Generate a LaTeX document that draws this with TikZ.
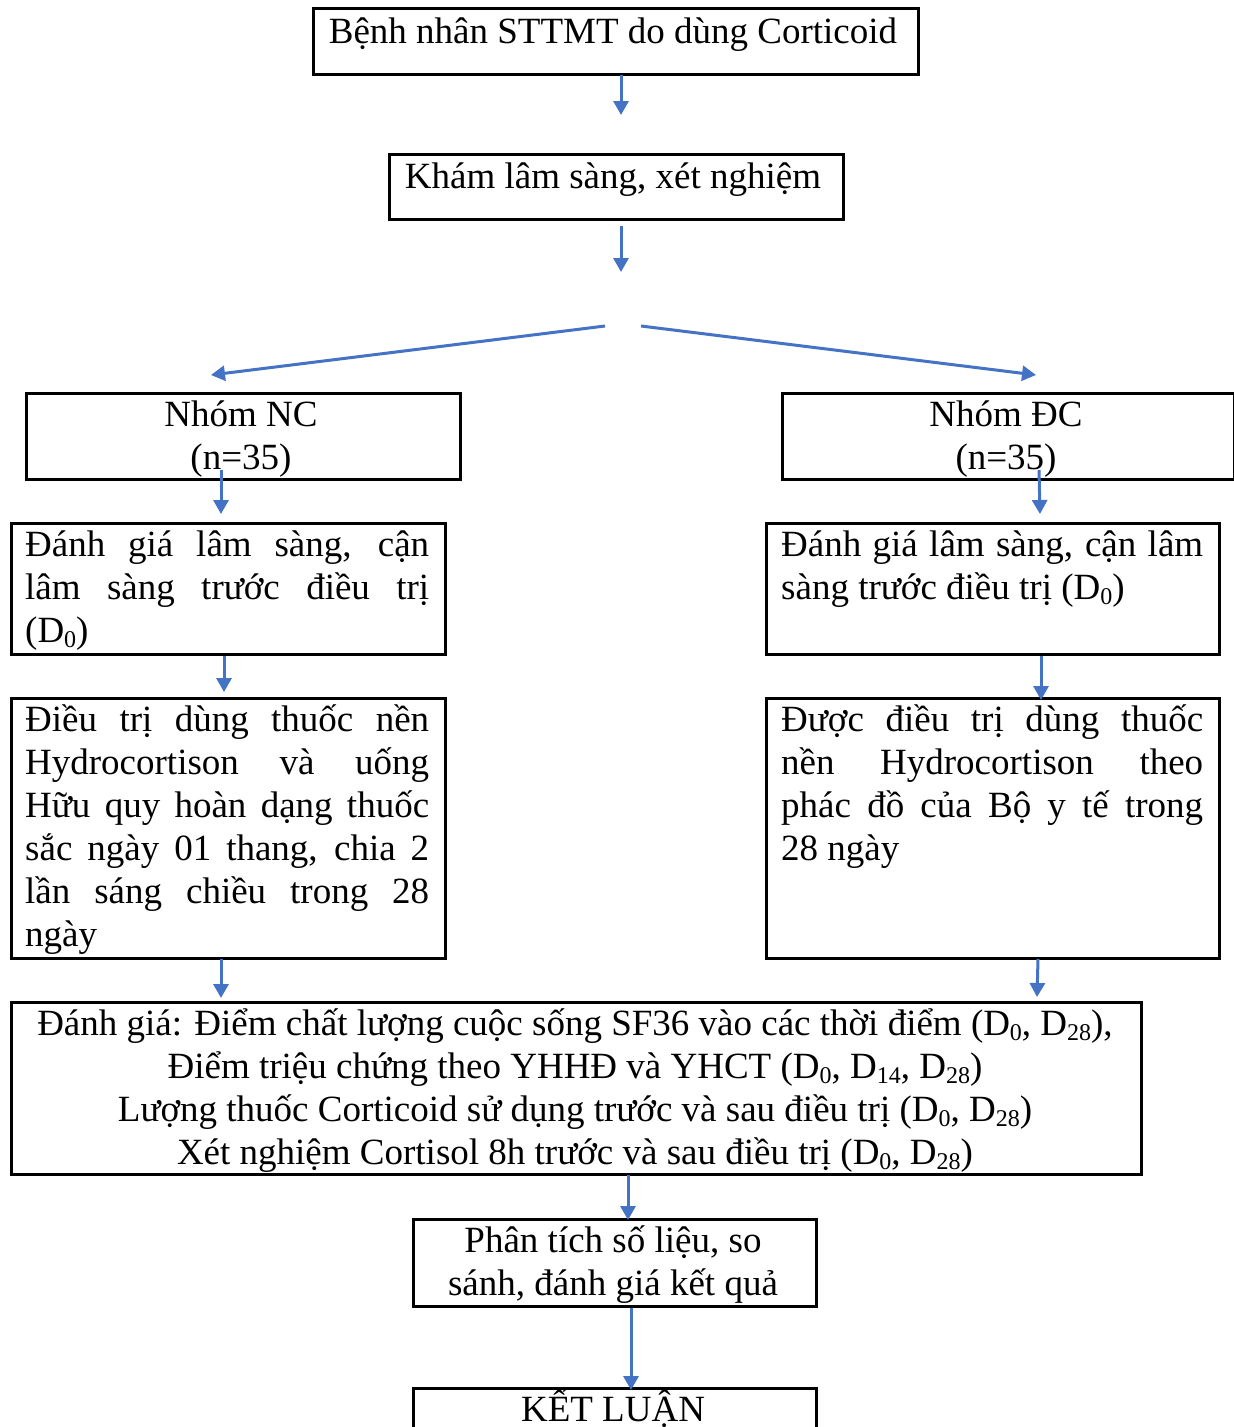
\documentclass[tikz,border=0pt]{standalone}
\usepackage{fontspec}
\setmainfont{Liberation Serif}
\usetikzlibrary{arrows.meta}
\definecolor{arrowblue}{HTML}{4472C4}
\newcommand\dsub[1]{\raisebox{-0.15em}{\fontsize{24}{24}\selectfont #1}}
\newcommand\jline[2]{\makebox[#1][s]{#2}}
\begin{document}
\begin{tikzpicture}[x=1pt,y=-1pt,
  box/.style={draw=black,line width=2.5pt,anchor=north west,inner sep=0pt},
  txt/.style={font=\fontsize{37}{43}\selectfont,inner sep=0pt,anchor=base},
  ltxt/.style={font=\fontsize{37}{43}\selectfont,inner sep=0pt,anchor=base west},
  arr/.style={draw=arrowblue,line width=3pt,-{Triangle[width=15pt,length=14pt]}}]
\useasboundingbox (0,0) rectangle (1234,1427);
% boxes
\node[box,minimum width=605pt,minimum height=66pt] (b1) at (312,7) {};
\node[box,minimum width=454pt,minimum height=65pt] (b2) at (388,153) {};
\node[box,minimum width=434pt,minimum height=86pt] (nc) at (25,392) {};
\node[box,minimum width=452pt,minimum height=86pt] (dc) at (781,392) {};
\node[box,minimum width=434pt,minimum height=131pt] (l1) at (10,522) {};
\node[box,minimum width=453pt,minimum height=131pt] (r1) at (765,522) {};
\node[box,minimum width=434pt,minimum height=260pt] (l2) at (10,697) {};
\node[box,minimum width=453pt,minimum height=260pt] (r2) at (765,697) {};
\node[box,minimum width=1130pt,minimum height=172pt] (big) at (10,1001) {};
\node[box,minimum width=403pt,minimum height=87pt] (pt) at (412,1218) {};
\node[box,minimum width=403pt,minimum height=70pt] (kl) at (412,1387) {};
% texts
\node[txt] (t1) at (613,43) {Bệnh nhân STTMT do dùng Corticoid};
\node[txt] (t2) at (613,188) {Khám lâm sàng, xét nghiệm};
\node[txt] (tnc1) at (241,426) {Nhóm NC};
\node[txt] (tnc2) at (241,469) {(n=35)};
\node[txt] (tdc1) at (1006,426) {Nhóm ĐC};
\node[txt] (tdc2) at (1006,469) {(n=35)};
\node[ltxt] (tl1a) at (25,556) {\jline{404pt}{Đánh giá lâm sàng, cận}};
\node[ltxt] (tl1b) at (25,599) {\jline{404pt}{lâm sàng trước điều trị}};
\node[ltxt] (tl1c) at (25,642) {(D\dsub{0})};
\node[ltxt] (tr1a) at (781,556) {\jline{422pt}{Đánh giá lâm sàng, cận lâm}};
\node[ltxt] (tr1b) at (781,599) {sàng trước điều trị (D\dsub{0})};
\node[ltxt] (tl2a) at (25,731) {\jline{404pt}{Điều trị dùng thuốc nền}};
\node[ltxt] (tl2b) at (25,774) {\jline{404pt}{Hydrocortison và uống}};
\node[ltxt] (tl2c) at (25,817) {\jline{404pt}{Hữu quy hoàn dạng thuốc}};
\node[ltxt] (tl2d) at (25,860) {\jline{404pt}{sắc ngày 01 thang, chia 2}};
\node[ltxt] (tl2e) at (25,903) {\jline{404pt}{lần sáng chiều trong 28}};
\node[ltxt] (tl2f) at (25,946) {ngày};
\node[ltxt] (tr2a) at (781,731) {\jline{422pt}{Được điều trị dùng thuốc}};
\node[ltxt] (tr2b) at (781,774) {\jline{422pt}{nền Hydrocortison theo}};
\node[ltxt] (tr2c) at (781,817) {\jline{422pt}{phác đồ của Bộ y tế trong}};
\node[ltxt] (tr2d) at (781,860) {28 ngày};
\node[txt] (tbiga) at (575,1035) {Đánh giá: Điểm chất lượng cuộc sống SF36 vào các thời điểm (D\dsub{0}, D\dsub{28}),};
\node[txt] (tbigb) at (575,1078) {Điểm triệu chứng theo YHHĐ và YHCT (D\dsub{0}, D\dsub{14}, D\dsub{28})};
\node[txt] (tbigc) at (575,1121) {Lượng thuốc Corticoid sử dụng trước và sau điều trị (D\dsub{0}, D\dsub{28})};
\node[txt] (tbigd) at (575,1164) {Xét nghiệm Cortisol 8h trước và sau điều trị (D\dsub{0}, D\dsub{28})};
\node[txt] (tpta) at (613,1252) {Phân tích số liệu, so};
\node[txt] (tptb) at (613,1295) {sánh, đánh giá kết quả};
\node[txt] (tkl) at (613,1421) {KẾT LUẬN};
% arrow end points
\coordinate (a1s) at (621,75);   \coordinate (a1e) at (621,115);
\coordinate (a2s) at (621,226);  \coordinate (a2e) at (621,272);
\coordinate (a3s) at (605,326);  \coordinate (a3e) at (211,375);
\coordinate (a4s) at (641,326);  \coordinate (a4e) at (1036,375);
\coordinate (a5s) at (221,470);  \coordinate (a5e) at (221,514);
\coordinate (a6s) at (1039,470); \coordinate (a6e) at (1040,514);
\coordinate (a7s) at (224,656);  \coordinate (a7e) at (224,692);
\coordinate (a8s) at (1041,656); \coordinate (a8e) at (1041,700);
\coordinate (a9s) at (221,959);  \coordinate (a9e) at (221,998);
\coordinate (a10s) at (1038,959); \coordinate (a10e) at (1037,997);
\coordinate (a11s) at (628,1175); \coordinate (a11e) at (628,1220);
\coordinate (a12s) at (631,1308); \coordinate (a12e) at (631,1390);
\foreach \i in {1,...,12} {\draw[arr] (a\i s) -- (a\i e);}
\end{tikzpicture}
\end{document}
